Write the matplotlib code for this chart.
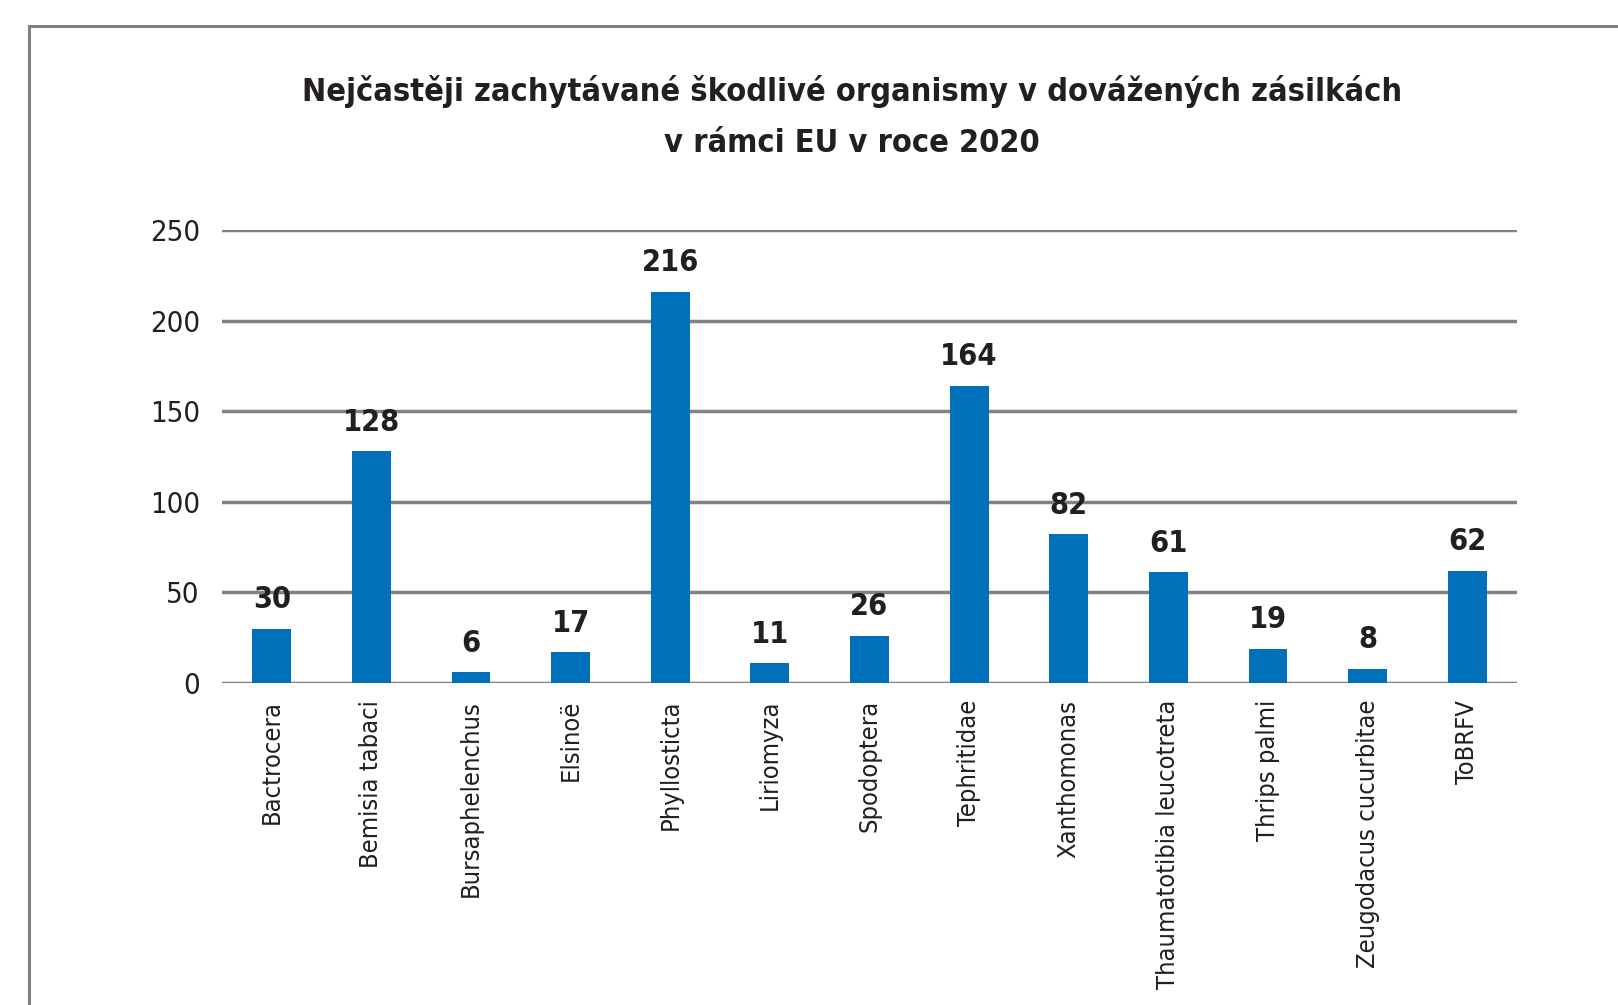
import matplotlib.pyplot as plt
from matplotlib.patches import Rectangle

organisms = ['Bactrocera', 'Bemisia tabaci', 'Bursaphelenchus', 'Elsinoë',
             'Phyllosticta', 'Liriomyza', 'Spodoptera', 'Tephritidae',
             'Xanthomonas', 'Thaumatotibia leucotreta', 'Thrips palmi',
             'Zeugodacus cucurbitae', 'ToBRFV']
counts = [30, 128, 6, 17, 216, 11, 26, 164, 82, 61, 19, 8, 62]
yticks = [0, 50, 100, 150, 200, 250]

title = 'Nejčastěji zachytávané škodlivé organismy v dovážených zásilkách\nv rámci EU v roce 2020'

TXT = '#231f20'
GRID = '#808285'
BLUE = '#0070ba'

plt.rcParams['font.family'] = ['DejaVu Sans']
plt.rcParams['font.stretch'] = 'condensed'

fig = plt.figure(figsize=(16.18, 10.05), dpi=100)

# outer frame, runs off the right and bottom edges
fig.patches.append(Rectangle((29 / 1618, -0.1), 1.2, 1 - 26 / 1005 + 0.1,
                             transform=fig.transFigure, fill=False,
                             edgecolor=GRID, linewidth=2.2))

ax = fig.add_axes([222 / 1618, 1 - 683 / 1005, (1517 - 222) / 1618, (683 - 230) / 1005])

x = range(len(organisms))
ax.bar(x, counts, width=0.39, color=BLUE, zorder=3)

for xi, v in zip(x, counts):
    ax.text(xi, v + 8, str(v), ha='center', va='bottom', fontsize=22,
            fontweight='bold', color=TXT)

ax.set_xlim(-0.5, 12.5)
ax.set_ylim(0, 250)
ax.set_yticks(yticks)
ax.set_yticklabels([str(t) for t in yticks], fontsize=21, color=TXT)
ax.set_xticks(list(x))
ax.set_xticklabels(organisms, rotation=90, fontsize=18.3, color=TXT, va='top')

ax.grid(axis='y', color=GRID, linewidth=2.5, zorder=0)
ax.tick_params(axis='both', length=0)
ax.tick_params(axis='y', pad=16)
ax.tick_params(axis='x', pad=12)
for s in ax.spines.values():
    s.set_visible(False)

fig.text(852 / 1618, 1 - 117 / 1005, title, ha='center', va='center',
         fontsize=23.3, fontweight='bold', color=TXT, linespacing=1.85)

fig.savefig('out.png', dpi=100)
